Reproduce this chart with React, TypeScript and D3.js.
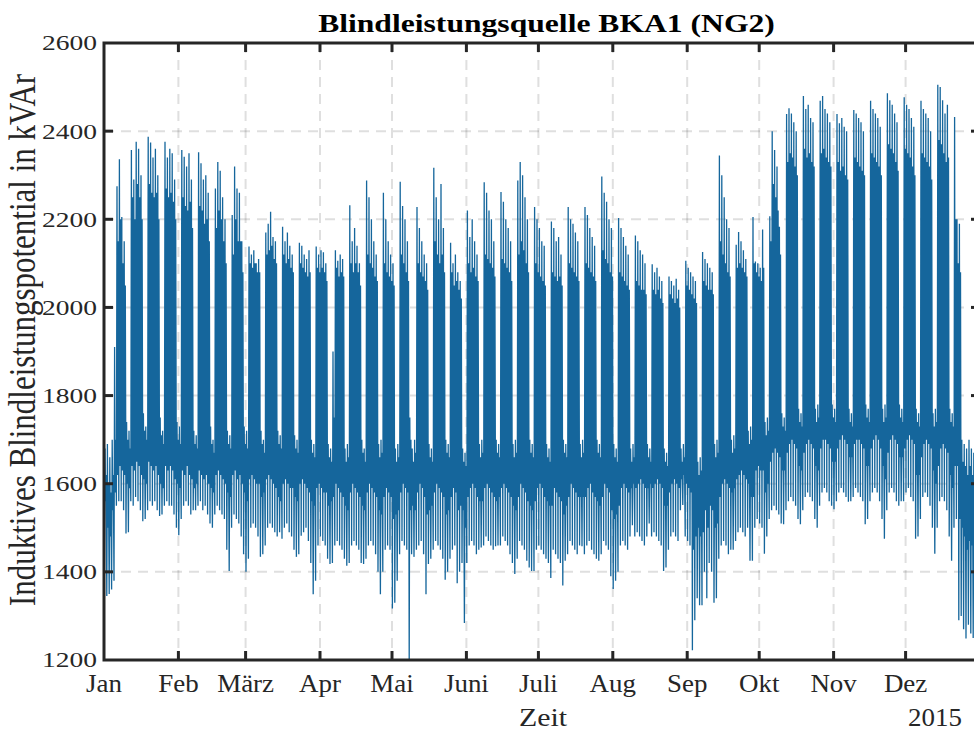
import React from "react";
import * as d3 from "d3";

// ---- Data, one value per day, rows = weeks ----
// daily minimum (kVAr)
const dayMin: number[] = [
  1400, 1345, 1350, 1360,
  1380, 1550, 1560, 1560, 1540, 1487, 1490,
  1560, 1550, 1570, 1560, 1540, 1515, 1520,
  1540, 1560, 1550, 1560, 1540, 1527, 1530,
  1550, 1560, 1550, 1550, 1530, 1500, 1483,
  1520, 1550, 1560, 1550, 1530, 1540, 1540,
  1550, 1560, 1540, 1550, 1530, 1510, 1500,
  1530, 1550, 1540, 1530, 1520, 1450, 1402,
  1500, 1530, 1520, 1510, 1480, 1440, 1400,
  1430, 1500, 1510, 1500, 1480, 1434, 1440,
  1460, 1500, 1510, 1500, 1490, 1480, 1490,
  1475, 1500, 1510, 1490, 1480, 1450, 1434,
  1440, 1482, 1490, 1500, 1470, 1420, 1349,
  1380, 1460, 1480, 1470, 1460, 1430, 1418,
  1420, 1460, 1470, 1460, 1450, 1430, 1414,
  1420, 1460, 1470, 1460, 1450, 1420, 1418,
  1430, 1460, 1470, 1460, 1440, 1400, 1349,
  1400, 1450, 1460, 1450, 1317, 1330, 1380,
  1440, 1470, 1460, 1450, 1200, 1440, 1434,
  1450, 1460, 1470, 1440, 1349, 1418, 1430,
  1450, 1470, 1460, 1450, 1430, 1382, 1400,
  1430, 1450, 1460, 1374, 1400, 1420, 1284,
  1420, 1460, 1470, 1460, 1440, 1450, 1455,
  1460, 1480, 1470, 1460, 1450, 1458, 1460,
  1460, 1480, 1470, 1460, 1440, 1420, 1395,
  1430, 1470, 1460, 1450, 1425, 1410, 1402,
  1402, 1450, 1460, 1450, 1440, 1430, 1420,
  1386, 1450, 1440, 1430, 1420, 1369, 1425,
  1440, 1470, 1460, 1450, 1440, 1460, 1458,
  1440, 1460, 1470, 1450, 1440, 1430, 1425,
  1440, 1470, 1460, 1450, 1390, 1361, 1380,
  1400, 1460, 1470, 1460, 1450, 1480, 1506,
  1480, 1490, 1480, 1470, 1460, 1480, 1510,
  1480, 1490, 1480, 1470, 1460, 1402, 1410,
  1450, 1480, 1490, 1480, 1470, 1540, 1552,
  1480, 1470, 1460, 1222, 1290, 1340, 1324,
  1324, 1400, 1340, 1420, 1400, 1330, 1340,
  1430, 1460, 1470, 1460, 1440, 1450, 1450,
  1470, 1490, 1500, 1490, 1480, 1500, 1425,
  1425, 1500, 1520, 1510, 1500, 1441, 1480,
  1520, 1540, 1550, 1540, 1530, 1510, 1508,
  1540, 1560, 1570, 1560, 1550, 1520, 1508,
  1540, 1570, 1580, 1570, 1560, 1520, 1500,
  1550, 1580, 1590, 1580, 1560, 1550, 1542,
  1560, 1580, 1590, 1580, 1570, 1559, 1560,
  1570, 1590, 1580, 1570, 1560, 1508, 1520,
  1560, 1580, 1590, 1580, 1560, 1520, 1475,
  1540, 1580, 1590, 1580, 1560, 1550, 1560,
  1560, 1580, 1590, 1570, 1560, 1475, 1480,
  1520, 1570, 1580, 1570, 1550, 1500, 1441,
  1500, 1560, 1570, 1560, 1540, 1480, 1425,
  1500, 1520, 1290, 1300, 1270, 1249, 1280,
  1260, 1250, 1280, 1300,
];

// daily maximum (kVAr)
const dayMax: number[] = [
  1680, 1690, 1660, 1700,
  1910, 2275, 2336, 2205, 2150, 1740, 1720,
  2357, 2290, 2376, 2360, 2300, 1760, 1730,
  2387, 2374, 2340, 2360, 2300, 1750, 1720,
  2376, 2340, 2360, 2350, 2290, 1740, 1730,
  2357, 2342, 2320, 2350, 2290, 1720, 1710,
  2352, 2327, 2290, 2300, 2260, 1730, 1700,
  2270, 2330, 2310, 2250, 2200, 1720, 1710,
  2210, 2320, 2270, 2260, 2150, 1730, 1720,
  2138, 2120, 2130, 2100, 2110, 1720, 1700,
  2170, 2190, 2217, 2160, 2150, 1720, 1710,
  2183, 2150, 2170, 2140, 2120, 1710, 1700,
  2147, 2140, 2120, 2110, 2130, 1700, 1690,
  2138, 2120, 2130, 2125, 2100, 1690, 1680,
  1900, 2130, 2106, 2120, 2110, 1680, 1690,
  2232, 2150, 2180, 2140, 2100, 1700, 1680,
  2288, 2250, 2200, 2150, 2120, 1690, 1700,
  2260, 2200, 2150, 2120, 2100, 1680, 1690,
  2285, 2230, 2200, 2150, 1750, 1680, 1700,
  2228, 2180, 2150, 2120, 2100, 1690, 1680,
  2317, 2250, 2200, 2280, 2180, 1700, 1690,
  2147, 2100, 2120, 2080, 2060, 1680, 1670,
  2220, 2160, 2200, 2150, 2120, 1690, 1700,
  2284, 2260, 2220, 2200, 2150, 1700, 1690,
  2262, 2240, 2200, 2180, 2150, 1690, 1700,
  2288, 2330, 2300, 2250, 2200, 1700, 1690,
  2228, 2200, 2180, 2150, 2140, 1690, 1680,
  2195, 2180, 2150, 2160, 2120, 1700, 1690,
  2228, 2200, 2190, 2170, 2150, 1690, 1700,
  2228, 2210, 2180, 2160, 2140, 1700, 1690,
  2297, 2260, 2240, 2200, 2180, 1690, 1680,
  2203, 2180, 2160, 2140, 2120, 1680, 1690,
  2163, 2150, 2130, 2120, 2100, 1690, 1680,
  2098, 2080, 2090, 2070, 2060, 1680, 1670,
  2070, 2060, 2050, 2065, 2040, 1680, 1690,
  2106, 2090, 2080, 2070, 2060, 1650, 1660,
  2126, 2110, 2100, 2090, 2080, 1690, 1700,
  2345, 2300, 2250, 2200, 2180, 1700, 1710,
  2142, 2171, 2150, 2130, 2110, 1720, 1730,
  2205, 2104, 2100, 2090, 2177, 1740, 1750,
  2207, 2400, 2357, 2320, 2183, 1760, 1750,
  2439, 2452, 2440, 2420, 2400, 1770, 1760,
  2480, 2450, 2460, 2430, 2420, 1770, 1780,
  2469, 2480, 2450, 2440, 2420, 1780, 1770,
  2439, 2418, 2430, 2410, 2400, 1770, 1760,
  2448, 2440, 2430, 2420, 2400, 1780, 1770,
  2469, 2450, 2440, 2430, 2410, 1770, 1780,
  2486, 2470, 2460, 2440, 2420, 1780, 1770,
  2477, 2460, 2450, 2430, 2410, 1770, 1760,
  2469, 2450, 2440, 2430, 2400, 1760, 1770,
  2505, 2500, 2470, 2440, 2460, 1770, 1760,
  2432, 2200, 2190, 1700, 1690, 1680, 1700,
  1680, 1670, 1690, 1700,
];

// typical night level (kVAr)
const dayBase: number[] = [
  1560, 1500, 1480, 1540,
  1580, 1620, 1640, 1630, 1620, 1600, 1590,
  1640, 1630, 1650, 1640, 1620, 1610, 1600,
  1650, 1640, 1630, 1640, 1620, 1600, 1590,
  1640, 1630, 1640, 1630, 1610, 1600, 1590,
  1630, 1620, 1640, 1620, 1610, 1590, 1600,
  1630, 1620, 1610, 1620, 1600, 1590, 1580,
  1620, 1630, 1620, 1610, 1600, 1580, 1570,
  1620, 1630, 1610, 1620, 1600, 1580, 1560,
  1610, 1620, 1610, 1600, 1600, 1570, 1580,
  1610, 1620, 1610, 1600, 1590, 1570, 1560,
  1600, 1610, 1600, 1590, 1590, 1570, 1560,
  1600, 1610, 1600, 1590, 1580, 1560, 1550,
  1590, 1600, 1590, 1580, 1580, 1550, 1560,
  1570, 1600, 1590, 1580, 1570, 1550, 1540,
  1580, 1600, 1590, 1580, 1570, 1550, 1540,
  1580, 1600, 1590, 1580, 1570, 1540, 1530,
  1570, 1590, 1580, 1570, 1520, 1530, 1540,
  1580, 1600, 1590, 1580, 1540, 1550, 1540,
  1580, 1600, 1590, 1570, 1530, 1540, 1550,
  1580, 1600, 1590, 1580, 1570, 1530, 1540,
  1570, 1590, 1580, 1540, 1550, 1540, 1500,
  1570, 1590, 1600, 1590, 1570, 1560, 1560,
  1590, 1600, 1590, 1580, 1570, 1560, 1570,
  1590, 1600, 1590, 1580, 1570, 1550, 1540,
  1570, 1600, 1590, 1580, 1560, 1550, 1540,
  1560, 1590, 1600, 1590, 1570, 1560, 1550,
  1550, 1590, 1580, 1570, 1560, 1530, 1550,
  1570, 1600, 1590, 1580, 1570, 1570, 1570,
  1570, 1590, 1600, 1580, 1570, 1560, 1550,
  1570, 1600, 1590, 1580, 1540, 1520, 1530,
  1550, 1590, 1600, 1590, 1580, 1590, 1600,
  1590, 1600, 1610, 1600, 1590, 1590, 1600,
  1590, 1600, 1610, 1600, 1590, 1550, 1550,
  1580, 1600, 1610, 1600, 1590, 1610, 1620,
  1600, 1590, 1580, 1450, 1480, 1500, 1480,
  1490, 1540, 1500, 1550, 1540, 1500, 1510,
  1570, 1600, 1610, 1600, 1590, 1580, 1590,
  1610, 1620, 1630, 1620, 1610, 1600, 1570,
  1570, 1630, 1640, 1630, 1630, 1580, 1600,
  1650, 1670, 1680, 1670, 1660, 1630, 1630,
  1670, 1690, 1700, 1690, 1680, 1640, 1630,
  1670, 1690, 1700, 1690, 1680, 1640, 1630,
  1680, 1700, 1700, 1690, 1680, 1650, 1650,
  1680, 1700, 1710, 1700, 1690, 1660, 1660,
  1690, 1700, 1700, 1690, 1680, 1640, 1640,
  1680, 1700, 1710, 1700, 1680, 1640, 1610,
  1670, 1700, 1710, 1700, 1690, 1660, 1660,
  1680, 1700, 1710, 1700, 1690, 1620, 1620,
  1660, 1690, 1700, 1690, 1680, 1630, 1600,
  1640, 1680, 1690, 1680, 1670, 1620, 1590,
  1640, 1640, 1520, 1500, 1480, 1450, 1470,
  1460, 1440, 1470, 1490,
];

// upper edge of the dense daytime band (kVAr)
const dayBody: number[] = [
  1620, 1600, 1580, 1620,
  1700, 2150, 2200, 2100, 2050, 1700, 1680,
  2250, 2200, 2280, 2250, 2200, 1720, 1700,
  2280, 2260, 2250, 2260, 2200, 1710, 1690,
  2270, 2250, 2260, 2240, 2200, 1700, 1690,
  2250, 2230, 2220, 2240, 2180, 1690, 1680,
  2230, 2220, 2190, 2200, 2150, 1690, 1670,
  2180, 2220, 2200, 2150, 2100, 1690, 1680,
  2120, 2200, 2150, 2150, 2080, 1690, 1680,
  2100, 2090, 2100, 2080, 2080, 1690, 1670,
  2120, 2130, 2140, 2110, 2100, 1690, 1680,
  2120, 2100, 2110, 2090, 2080, 1680, 1670,
  2100, 2090, 2080, 2070, 2080, 1670, 1660,
  2090, 2080, 2090, 2080, 2060, 1660, 1650,
  1750, 2090, 2070, 2080, 2070, 1650, 1660,
  2100, 2080, 2100, 2080, 2050, 1670, 1650,
  2120, 2100, 2090, 2070, 2060, 1660, 1670,
  2100, 2080, 2070, 2060, 2050, 1650, 1660,
  2120, 2100, 2080, 2060, 1700, 1650, 1670,
  2100, 2080, 2070, 2060, 2040, 1660, 1650,
  2150, 2120, 2100, 2120, 2080, 1670, 1660,
  2080, 2050, 2060, 2040, 2020, 1650, 1640,
  2100, 2080, 2090, 2070, 2060, 1660, 1670,
  2120, 2110, 2100, 2090, 2070, 1670, 1660,
  2110, 2100, 2090, 2080, 2060, 1660, 1670,
  2120, 2150, 2130, 2100, 2080, 1670, 1660,
  2100, 2080, 2070, 2060, 2050, 1660, 1650,
  2080, 2070, 2060, 2070, 2050, 1670, 1660,
  2100, 2090, 2080, 2070, 2060, 1660, 1670,
  2100, 2090, 2080, 2070, 2060, 1670, 1660,
  2130, 2110, 2100, 2080, 2070, 1660, 1650,
  2080, 2070, 2060, 2050, 2040, 1650, 1660,
  2060, 2050, 2040, 2040, 2030, 1660, 1650,
  2040, 2030, 2040, 2020, 2010, 1650, 1640,
  2030, 2020, 2010, 2020, 2000, 1650, 1660,
  2050, 2040, 2030, 2020, 2010, 1620, 1630,
  2060, 2050, 2040, 2040, 2030, 1660, 1670,
  2150, 2120, 2100, 2080, 2070, 1670, 1680,
  2090, 2100, 2090, 2080, 2070, 1690, 1700,
  2100, 2080, 2070, 2060, 2090, 1710, 1720,
  2150, 2280, 2250, 2220, 2120, 1730, 1720,
  2330, 2350, 2340, 2320, 2300, 1740, 1730,
  2360, 2340, 2350, 2330, 2320, 1740, 1750,
  2350, 2360, 2340, 2330, 2320, 1750, 1740,
  2330, 2310, 2320, 2300, 2290, 1740, 1730,
  2340, 2330, 2320, 2310, 2300, 1750, 1740,
  2350, 2340, 2330, 2320, 2300, 1740, 1750,
  2370, 2360, 2350, 2330, 2310, 1750, 1740,
  2360, 2350, 2340, 2320, 2300, 1740, 1730,
  2350, 2340, 2330, 2320, 2290, 1730, 1740,
  2380, 2370, 2350, 2330, 2340, 1740, 1730,
  2200, 2100, 2080, 1650, 1640, 1620, 1640,
  1620, 1610, 1630, 1640,
];

// hour of the day at which each daily value is plotted
const minHour = 4;
const maxHour = 10;
const baseHour = 15;
const bodyHour = 21;

const monthLabels = ["Jan", "Feb", "März", "Apr", "Mai", "Juni", "Juli", "Aug", "Sep", "Okt", "Nov", "Dez"];
const yTickValues = [1200, 1400, 1600, 1800, 2000, 2200, 2400, 2600];
const yearLabel = "2015";
const titleText = "Blindleistungsquelle BKA1 (NG2)";
const xLabelText = "Zeit";
const yLabelText = "Induktives Blindleistungspotential in kVAr";

const W = 974;
const H = 731;
const M = { left: 104, right: 980, top: 43, bottom: 660 };
const INK = "#262626";
const LINE = "#15669c";
const FONT = "'Liberation Serif', 'Times New Roman', serif";

const start = Date.UTC(2014, 0, 1);
const end = Date.UTC(2015, 0, 1);
const HOUR = 3600000;
const DAY = 24 * HOUR;

type Pt = { t: number; v: number };

export default function App() {
  const x = d3.scaleUtc().domain([new Date(start), new Date(end)]).range([M.left, M.right]);
  const y = d3.scaleLinear().domain([1200, 2600]).range([M.bottom, M.top]);

  const pts: Pt[] = [];
  for (let i = 0; i < dayMin.length; i++) {
    const d0 = start + i * DAY;
    pts.push({ t: d0 + minHour * HOUR, v: dayMin[i] });
    pts.push({ t: d0 + maxHour * HOUR, v: dayMax[i] });
    pts.push({ t: d0 + baseHour * HOUR, v: dayBase[i] });
    pts.push({ t: d0 + bodyHour * HOUR, v: dayBody[i] });
  }
  const line = d3
    .line<Pt>()
    .x((d) => x(new Date(d.t)))
    .y((d) => y(d.v));
  const path = line(pts) || "";

  const months = d3.utcMonth.range(new Date(start), new Date(end));

  const tickLen = 9;

  return (
    <svg
      width={W}
      height={H}
      viewBox={`0 0 ${W} ${H}`}
      style={{ position: "absolute", left: 0, top: 0, background: "#fff" }}
    >
      <defs>
        <clipPath id="plot">
          <rect x={M.left} y={M.top} width={M.right - M.left} height={M.bottom - M.top} />
        </clipPath>
      </defs>
      <rect x={0} y={0} width={W} height={H} fill="#fff" />

      {/* grid */}
      <g stroke={INK} strokeOpacity={0.15} strokeWidth={2} strokeDasharray="10 7">
        {months.slice(1).map((m, i) => (
          <line key={"gx" + i} x1={x(m)} x2={x(m)} y1={M.top} y2={M.bottom} />
        ))}
        {yTickValues.slice(1, -1).map((v) => (
          <line key={"gy" + v} x1={M.left} x2={M.right} y1={y(v)} y2={y(v)} />
        ))}
      </g>

      {/* data */}
      <g clipPath="url(#plot)">
        <path d={path} fill="none" stroke={LINE} strokeWidth={1.3} strokeLinejoin="miter" />
      </g>

      {/* ticks */}
      <g stroke={INK} strokeWidth={3}>
        {months.slice(1).map((m, i) => (
          <g key={"tx" + i}>
            <line x1={x(m)} x2={x(m)} y1={M.bottom} y2={M.bottom - tickLen} />
            <line x1={x(m)} x2={x(m)} y1={M.top} y2={M.top + tickLen} />
          </g>
        ))}
        {yTickValues.slice(1, -1).map((v) => (
          <g key={"ty" + v}>
            <line x1={M.left} x2={M.left + tickLen} y1={y(v)} y2={y(v)} />
            <line x1={M.right} x2={M.right - tickLen} y1={y(v)} y2={y(v)} />
          </g>
        ))}
      </g>

      {/* axes box */}
      <rect
        x={M.left}
        y={M.top}
        width={M.right - M.left}
        height={M.bottom - M.top}
        fill="none"
        stroke={INK}
        strokeWidth={3}
      />

      {/* y tick labels */}
      <g fill={INK} fontFamily={FONT} fontSize={22}>
        {yTickValues.map((v) => (
          <text
            key={"yl" + v}
            transform={`translate(97,${y(v) + 7.4}) scale(1.25,1)`}
            textAnchor="end"
          >
            {v}
          </text>
        ))}
      </g>

      {/* x tick labels */}
      <g fill={INK} fontFamily={FONT} fontSize={24.5}>
        {months.map((m, i) => (
          <text key={"xl" + i} transform={`translate(${x(m)},692) scale(1.1,1)`} textAnchor="middle">
            {monthLabels[i]}
          </text>
        ))}
        <text transform={`translate(962,726) scale(1.1,1)`} textAnchor="end">
          {yearLabel}
        </text>
      </g>

      {/* axis labels */}
      <text
        transform={`translate(${(M.left + M.right) / 2 + 1},726) scale(1.15,1)`}
        textAnchor="middle"
        fill={INK}
        fontFamily={FONT}
        fontSize={26}
      >
        {xLabelText}
      </text>
      <text
        transform={`translate(35,340) rotate(-90) scale(1,1.22)`}
        textAnchor="middle"
        fill={INK}
        fontFamily={FONT}
        fontSize={31}
      >
        {yLabelText}
      </text>

      {/* title */}
      <text
        transform={`translate(546.5,32) scale(1.24,1)`}
        textAnchor="middle"
        fill="#000"
        fontFamily={FONT}
        fontWeight="bold"
        fontSize={25.5}
      >
        {titleText}
      </text>
    </svg>
  );
}
